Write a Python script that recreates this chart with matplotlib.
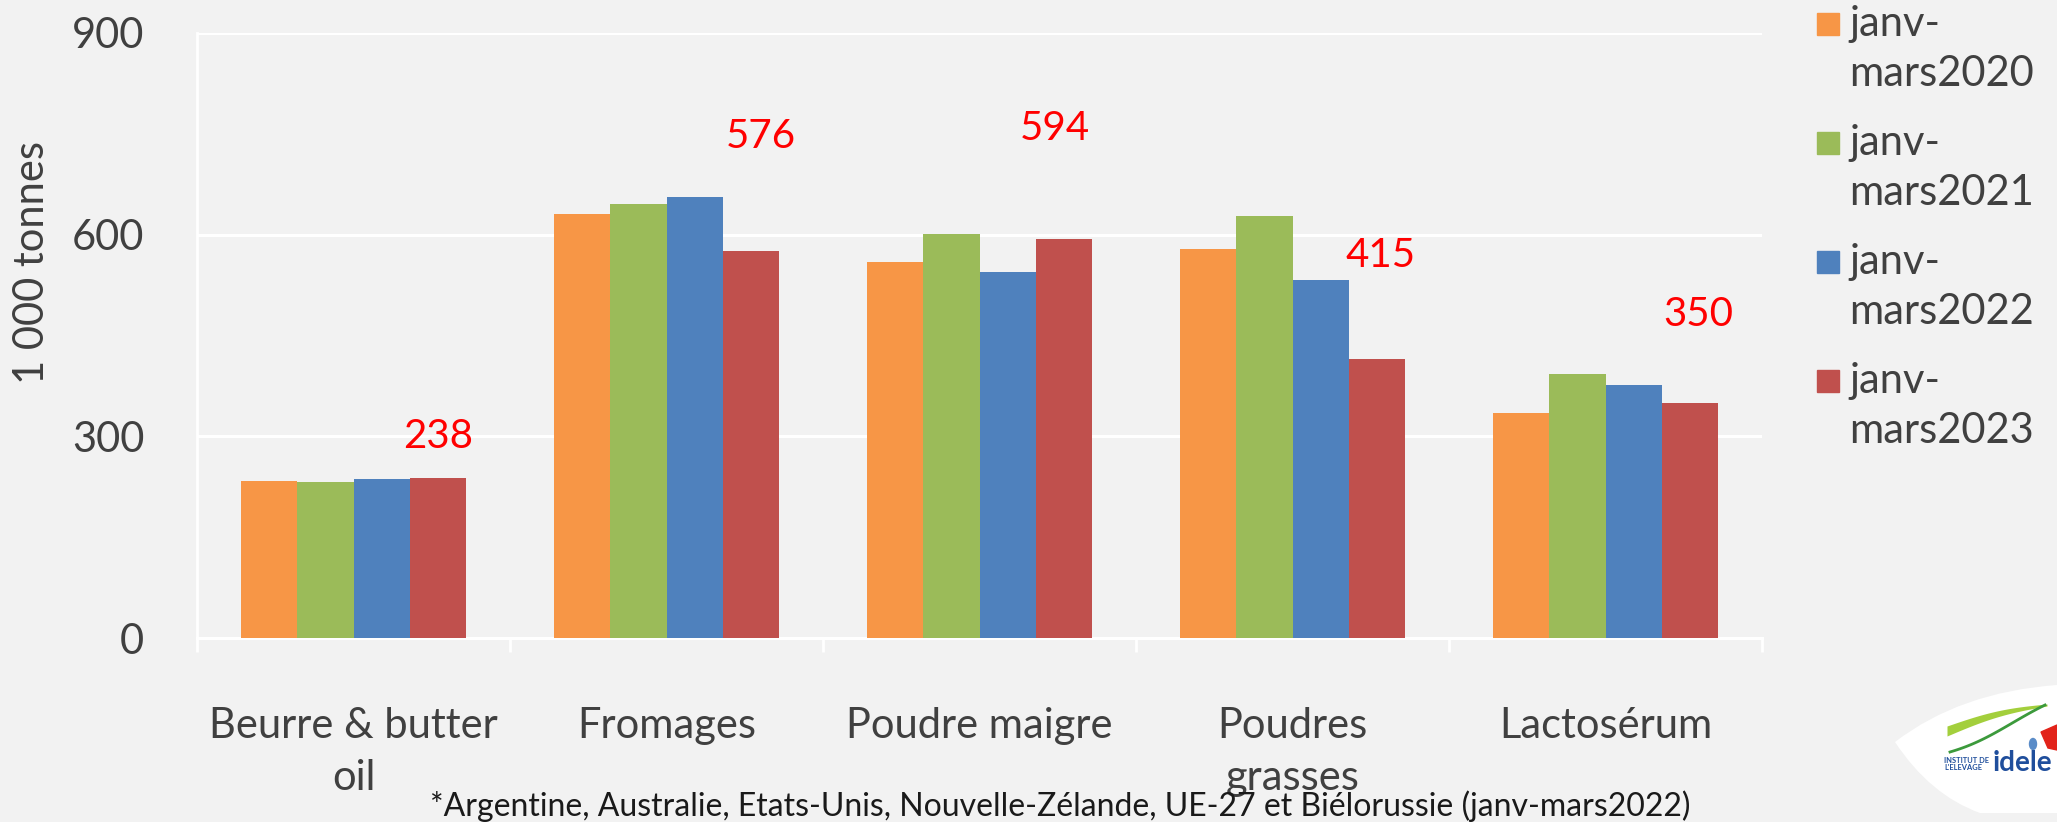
import numpy as np
import matplotlib.pyplot as plt
from matplotlib.patches import Rectangle, Polygon, Ellipse, PathPatch
from matplotlib.path import Path

plt.rcParams['font.family'] = ['Lato', 'DejaVu Sans']

## Donnees (1 000 tonnes)
produits = ['Beurre & butter\noil', 'Fromages', 'Poudre maigre', 'Poudres\ngrasses', 'Lactosérum']
periodes = ['janv-\nmars2020', 'janv-\nmars2021', 'janv-\nmars2022', 'janv-\nmars2023']
v_2020 = [234, 630, 559, 579, 334]
v_2021 = [232, 645, 601, 628, 392]
v_2022 = [236, 656, 544, 532, 377]
v_2023 = [238, 576, 594, 415, 350]
note = '*Argentine, Australie, Etats-Unis, Nouvelle-Zélande, UE-27 et Biélorussie (janv-mars2022)'

couleurs = ['#F79646', '#9BBB59', '#4F81BD', '#C0504D']
fond = '#f2f2f2'
gris = '#404040'

# decalage des etiquettes rouges (unites de l'axe y / categories)
dy_label = [34, 143, 136, 126, 104]
dx_label = [0.0, 0.03, -0.03, 0.01, 0.025]

fig = plt.figure(figsize=(20.57, 8.22), dpi=100, facecolor=fond)
ax = fig.add_axes([197/2057, 1 - 638/822, 1565/2057, 605/822])
ax.set_facecolor(fond)

x = np.arange(len(produits))
w = 0.18
series = [v_2020, v_2021, v_2022, v_2023]
for i, (vals, c) in enumerate(zip(series, couleurs)):
    ax.bar(x + (i - 1.5) * w, vals, width=w, color=c, zorder=3, linewidth=0)

# valeurs 2023 en rouge
for k, v in enumerate(v_2023):
    ax.text(x[k] + 1.5 * w + dx_label[k], v + dy_label[k], str(v), color='#ff0000',
            fontsize=29, ha='center', va='bottom', zorder=4)

ax.set_xlim(-0.5, len(produits) - 0.5)
ax.set_ylim(0, 900)
ax.set_yticks([0, 300, 600, 900])
ax.yaxis.grid(True, color='white', linewidth=2.2, zorder=0)
ax.tick_params(axis='y', length=0, pad=38, labelsize=30, labelcolor=gris)
ax.set_xticks(x)
ax.set_xticklabels(produits, linespacing=1.45)
ax.tick_params(axis='x', which='major', length=0, pad=50, labelsize=30, labelcolor=gris)
ax.set_xticks(np.arange(-0.5, len(produits)), minor=True)
ax.tick_params(axis='x', which='minor', length=10, width=2, color='white', direction='out')
for s in ['top', 'right']:
    ax.spines[s].set_visible(False)
ax.spines['left'].set_color('white')
ax.spines['left'].set_linewidth(2)
ax.spines['bottom'].set_color('white')
ax.spines['bottom'].set_linewidth(2.2)

fig.text(32/2057, 1 - 263/822, '1 000 tonnes', rotation=90, fontsize=30,
         color=gris, ha='center', va='center')

# legende
for i, (lab, c) in enumerate(zip(periodes, couleurs)):
    top = 13 + 119 * i
    fig.patches.append(Rectangle((1817/2057, 1 - (top + 22)/822), 22/2057, 22/822,
                                 transform=fig.transFigure, color=c))
    fig.text(1849/2057, 1 - (top - 8)/822, lab, fontsize=30, color=gris,
             ha='left', va='top', linespacing=1.4)

fig.text(1060/2057, 1 - 806/822, note, fontsize=23, color='#1a1a1a', ha='center', va='center')

# logo idele
lg = fig.add_axes([1880/2057, 0, 177/2057, 142/822])
lg.set_xlim(0, 177)
lg.set_ylim(142, 0)
lg.axis('off')
feuille = Path([(15, 62), (80, 12), (177, 5), (177, 133), (100, 133), (50, 115), (15, 62)],
               [Path.MOVETO, Path.CURVE3, Path.LINETO, Path.LINETO, Path.LINETO,
                Path.CURVE3, Path.LINETO])
lg.add_patch(PathPatch(feuille, facecolor='white', edgecolor='none', zorder=1))
t = np.linspace(0, 1, 40)
lg.fill_between(67 + 100 * t, 46 - 22 * t - 4 * np.sin(np.pi * t),
                56 - 30 * t - 4 * np.sin(np.pi * t), color='#a3cf3c', lw=0, zorder=2)
lg.plot(70 + 95 * t, 72 - 47 * t + 6 * np.sin(np.pi * t) * (1 - t), color='#3c9a3c',
        lw=2, zorder=2)
lg.add_patch(Ellipse((153, 64), 7, 11, color='#5a8cc8', zorder=2))
lg.add_patch(Polygon([[161, 52], [177, 45], [177, 70], [168, 68]], closed=True,
                     color='#e2231a', zorder=2))
lg.text(64, 84, "INSTITUT DE\nL'ELEVAGE", fontsize=5.4, fontweight='bold', color='#1f4e9c',
        va='center', ha='left', linespacing=1.0, zorder=3)
lg.text(113, 83, 'idele', fontsize=20, fontweight='bold', color='#1f4e9c',
        va='center', ha='left', zorder=3)

fig.savefig('out.png', dpi=100, facecolor=fond)
